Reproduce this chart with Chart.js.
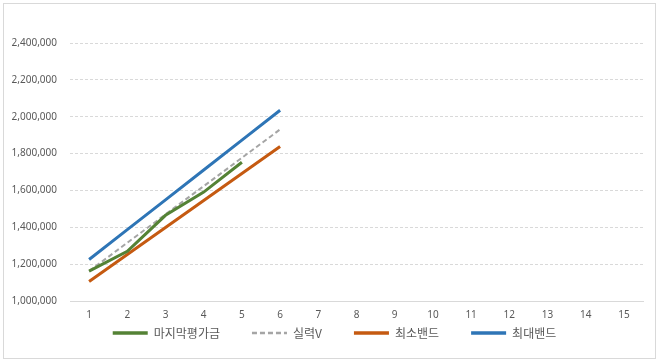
<!DOCTYPE html>
<html><head><meta charset="utf-8">
<script src="https://cdn.jsdelivr.net/npm/chart.js@4"></script>
<style>html,body{margin:0;padding:0;background:#fff}#wrap{width:663px;height:363px;position:relative}</style>
</head><body><div id="wrap"><canvas id="c" width="663" height="363"></canvas></div>
<script>
const categories = ['1','2','3','4','5','6','7','8','9','10','11','12','13','14','15'];
const lastEval = [1162000, 1270000, 1465000, 1591000, 1753000];
const skillV   = [1162000, 1316000, 1470000, 1623000, 1777000, 1931000];
const minBand  = [1106000, 1252000, 1399000, 1545000, 1692000, 1838000];
const maxBand  = [1225000, 1387000, 1549000, 1711000, 1873000, 2035000];
const seriesNames = ['마지막평가금','실력V','최소밴드','최대밴드'];
const yMin = 1000000, yMax = 2400000, yStep = 200000;

const LEGEND_PAD = 32;
const LEGEND_CENTER_Y = 333;
const LEGEND_SHIFT_X = 13;

const borderPlugin = {
  id: 'outerBorder',
  beforeDraw(chart){
    const ctx = chart.ctx;
    ctx.save();
    ctx.fillStyle = '#fff';
    ctx.fillRect(0,0,chart.width,chart.height);
    ctx.strokeStyle = '#d9d9d9';
    ctx.lineWidth = 1;
    ctx.strokeRect(3.5,3.5,652,355);
    ctx.restore();
  },
  afterLayout(chart){
    if (chart.legend) {
      chart.legend.top = LEGEND_CENTER_Y - LEGEND_PAD - 6;
      chart.legend.left += LEGEND_SHIFT_X;
      chart.legend.right += LEGEND_SHIFT_X;
    }
  }
};

new Chart(document.getElementById('c'), {
  type: 'line',
  data: {
    labels: categories,
    datasets: [
      {label: seriesNames[0], data: lastEval, borderColor:'#548235', backgroundColor:'#548235', borderWidth:3},
      {label: seriesNames[1], data: skillV, borderColor:'#a5a5a5', backgroundColor:'#a5a5a5', borderWidth:2, borderDash:[5,3]},
      {label: seriesNames[2], data: minBand, borderColor:'#c55a11', backgroundColor:'#c55a11', borderWidth:3},
      {label: seriesNames[3], data: maxBand, borderColor:'#2e75b6', backgroundColor:'#2e75b6', borderWidth:3}
    ]
  },
  options: {
    responsive: false,
    animation: false,
    devicePixelRatio: 1,
    elements: { point: { radius: 0, hoverRadius: 0 }, line: { tension: 0 } },
    layout: { padding: { top: 43, right: 20, bottom: 0, left: 0 } },
    plugins: {
      tooltip: { enabled: false },
      legend: {
        position: 'bottom',
        maxHeight: 40,
        labels: {
          usePointStyle: true,
          pointStyle: 'line',
          pointStyleWidth: 35,
          padding: LEGEND_PAD,
          color: '#595959',
          font: { family: "'Noto Sans CJK KR', 'Noto Sans', sans-serif", size: 12 },
          generateLabels(chart){
            const items = Chart.defaults.plugins.legend.labels.generateLabels(chart);
            items.forEach(it => {
              const ds = chart.data.datasets[it.datasetIndex];
              it.lineDash = ds.borderDash || [];
              it.lineWidth = ds.borderWidth === 2 ? 2.5 : 3.5;
              it.strokeStyle = ds.borderColor;
            });
            return items;
          }
        }
      }
    },
    scales: {
      x: {
        offset: true,
        afterFit(scale){ scale.height = 22; },
        grid: { display: false, drawTicks: false },
        border: { display: true, color: '#d9d9d9', width: 1 },
        ticks: { color: '#595959', padding: 8, maxRotation: 0, autoSkip: false,
                 font: { family: "'Noto Sans', sans-serif", size: 10 } }
      },
      y: {
        min: yMin, max: yMax,
        afterFit(scale){ scale.width = 70; },
        grid: { color: '#d9d9d9', drawTicks: false, lineWidth: 1 },
        border: { display: false, dash: [3,2] },
        ticks: { stepSize: yStep, color: '#595959', padding: 13,
                 font: { family: "'Noto Sans', sans-serif", size: 10 },
                 callback: v => v.toLocaleString('en-US') }
      }
    }
  },
  plugins: [borderPlugin]
});
</script></body></html>
